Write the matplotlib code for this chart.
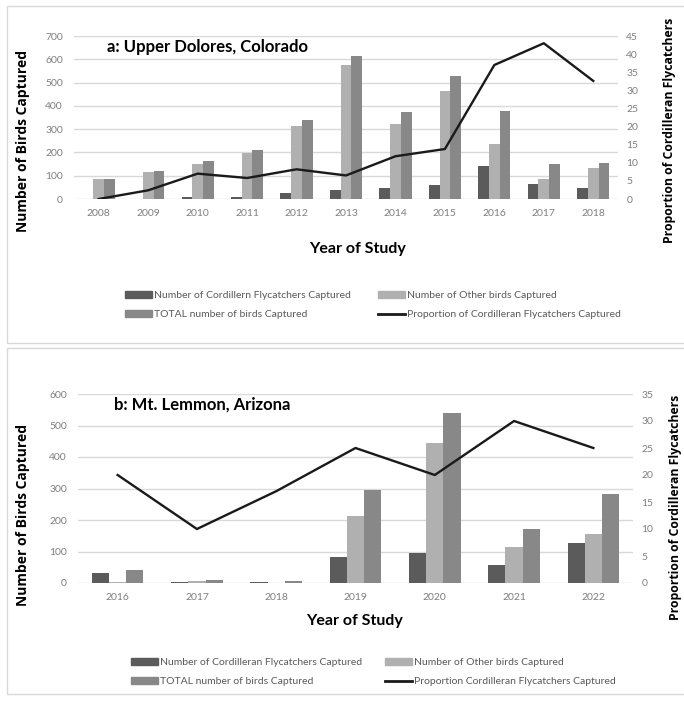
import matplotlib
matplotlib.use("Agg")
import matplotlib.pyplot as plt
from matplotlib.patches import Rectangle, Patch
from matplotlib.lines import Line2D
import numpy as np

# panel a: Upper Dolores, Colorado
years_a = ["2008", "2009", "2010", "2011", "2012", "2013", "2014", "2015", "2016", "2017", "2018"]
cf_a = [0, 0, 8, 8, 25, 40, 48, 62, 140, 63, 48]
other_a = [85, 118, 150, 198, 312, 575, 320, 465, 235, 86, 134]
total_a = [85, 122, 162, 212, 340, 615, 373, 530, 378, 150, 154]
prop_a = [0, 2.4, 7.0, 5.8, 8.2, 6.5, 11.8, 13.8, 37.0, 43.0, 32.6]

# panel b: Mt. Lemmon, Arizona
years_b = ["2016", "2017", "2018", "2019", "2020", "2021", "2022"]
cf_b = [32, 2, 4, 83, 95, 57, 127]
other_b = [4, 7, 1, 212, 445, 114, 155]
total_b = [41, 8, 7, 295, 540, 171, 282]
prop_b = [20, 10, 17, 25, 20, 30, 25]

W, H = 684, 701
DARK, LIGHT, MID = "#5b5b5b", "#b0b0b0", "#888888"
GRID = "#d9d9d9"
TICK = "#7f7f7f"

fig = plt.figure(figsize=(W / 100, H / 100), dpi=100)


def box(x0, y0, x1, y1):
    return [x0 / W, 1 - y1 / H, (x1 - x0) / W, (y1 - y0) / H]


def fx(x):
    return x / W


def fy(y):
    return 1 - y / H


def panel(rect, years, cf, other, total, prop, ymax, pmax, title, title_xy,
          lab_cf, lab_prop, ylab_y, rlab_x, xlab_xy, leg_y, leg_x):
    ax = fig.add_axes(box(*rect))
    x = np.arange(len(years))
    w = 0.217
    ax.bar(x - w, cf, w, color=DARK, zorder=2)
    ax.bar(x, other, w, color=LIGHT, zorder=2)
    ax.bar(x + w, total, w, color=MID, zorder=2)
    ax.set_xlim(-0.5, len(years) - 0.5)
    ax.set_ylim(0, ymax)
    ax.set_yticks(np.arange(0, ymax + 1, 100))
    ax.set_xticks(x)
    ax.set_xticklabels(years)
    ax.yaxis.grid(True, color=GRID, lw=1)
    ax.set_axisbelow(True)
    for s in ax.spines.values():
        s.set_visible(False)
    ax.tick_params(length=0, labelsize=7.5, labelcolor=TICK)
    ax.tick_params(axis="y", pad=8)
    ax.tick_params(axis="x", pad=7)
    for t in ax.get_xticklabels() + ax.get_yticklabels():
        t.set_family("Lato")

    ax2 = ax.twinx()
    ax2.plot(x, prop, color="#1a1a1a", lw=1.7, zorder=3)
    ax2.set_ylim(0, pmax)
    ax2.set_yticks(np.arange(0, pmax + 1, 5))
    for s in ax2.spines.values():
        s.set_visible(False)
    ax2.tick_params(length=0, labelsize=7.5, labelcolor=TICK, pad=6)
    for t in ax2.get_yticklabels():
        t.set_family("Lato")

    fig.text(fx(title_xy[0]), fy(title_xy[1]), title, family="Lato",
             weight="bold", fontsize=12, ha="left", va="center")
    fig.text(fx(23), fy(ylab_y[0]), "Number of Birds Captured", family="Open Sans",
             weight="bold", fontsize=10, rotation=90, ha="center", va="center")
    fig.text(fx(rlab_x), fy(ylab_y[1]), "Proportion of Cordilleran Flycatchers",
             family="Open Sans", weight="bold", fontsize=8.8, rotation=90,
             ha="center", va="center")
    fig.text(fx(xlab_xy[0]), fy(xlab_xy[1]), "Year of Study",
             family="Lato", weight="bold", fontsize=11.5, ha="center", va="center")

    h_cf = Patch(color=DARK, label=lab_cf)
    h_other = Patch(color=LIGHT, label="Number of Other birds Captured")
    h_total = Patch(color=MID, label="TOTAL number of birds Captured")
    h_prop = Line2D([], [], color="#1a1a1a", lw=2, label=lab_prop)
    for handles, lx in [([h_cf, h_total], leg_x[0]), ([h_other, h_prop], leg_x[1])]:
        leg = fig.legend(handles=handles, loc="upper left",
                         bbox_to_anchor=(fx(lx), fy(leg_y)), frameon=False,
                         borderaxespad=0, borderpad=0, handlelength=2.6,
                         handleheight=0.7, handletextpad=0.2, labelspacing=0.95,
                         prop={"family": "Lato", "size": 7.5})
        for t in leg.get_texts():
            t.set_color("#595959")


# panel borders
fig.patches.append(Rectangle((fx(7), fy(343)), (W + 10) / W, (343 - 6) / H,
                             transform=fig.transFigure, fill=False, ec=GRID, lw=1))
fig.patches.append(Rectangle((fx(7), fy(694)), (W + 10) / W, (694 - 348) / H,
                             transform=fig.transFigure, fill=False, ec=GRID, lw=1))

panel((74, 36, 618, 199), years_a, cf_a, other_a, total_a, prop_a, 700, 45,
      "a: Upper Dolores, Colorado", (107, 47),
      "Number of Cordillern Flycatchers Captured",
      "Proportion of Cordilleran Flycatchers Captured",
      (141, 130), 670, (358, 249), 291, (125, 378))
panel((78, 394, 633, 583), years_b, cf_b, other_b, total_b, prop_b, 600, 35,
      "b: Mt. Lemmon, Arizona", (114, 405),
      "Number of Cordilleran Flycatchers Captured",
      "Proportion Cordilleran Flycatchers Captured",
      (515, 507), 675, (355, 621), 658, (131, 385))

fig.savefig("out.png", dpi=100)
